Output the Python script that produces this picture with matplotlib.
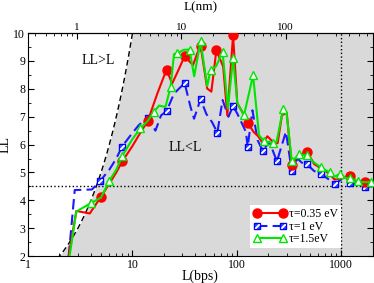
import numpy as np
import matplotlib
matplotlib.use("Agg")
import matplotlib.pyplot as plt
from matplotlib.ticker import FuncFormatter, AutoMinorLocator, NullFormatter, FixedLocator

plt.rcParams['font.family'] = ['Liberation Serif', 'DejaVu Serif']

# tau = 0.35 eV
L_red = [2.45, 2.9, 3.9, 5.0, 6.0, 7.0, 8.0, 10, 12, 14, 17.3, 21.2, 24, 27, 31.6, 38, 42,
         45, 52, 57, 63.6, 74, 81, 92, 101, 113, 127, 145, 160, 177, 196, 222, 246, 270,
         300, 336, 380, 411, 471, 550, 640, 775, 860, 1000, 1222, 1450, 1676, 2000]
LL_red = [2.0, 3.62, 3.53, 4.13, 4.6, 5.0, 5.4, 5.95, 6.45, 6.84, 7.83, 8.69, 8.19, 8.6, 9.17,
          8.85, 9.3, 9.54, 8.01, 7.9, 9.38, 8.8, 7.05, 9.92, 7.47, 7.17, 6.78, 6.45, 6.3,
          6.05, 6.3, 6.1, 6.05, 7.05, 7.15, 5.26, 5.6, 5.65, 5.75, 5.3, 5.15, 4.95, 4.75,
          4.78, 4.87, 4.63, 4.66, 4.6]
mk_red = [3, 6, 9, 11, 14, 17, 20, 23, 26, 35, 38, 44, 46]

# tau = 1 eV
L_blue = [2.45, 2.8, 4.1, 4.92, 6.0, 7.0, 7.95, 9.9, 11.5, 14, 16.6, 18.8, 21.2, 25, 31.6,
          36, 38.9, 44.9, 51, 58, 65, 73, 83, 92, 101, 122, 127, 141, 158, 177, 205, 242,
          295, 336, 380, 420, 471, 550, 640, 760, 880, 1000, 1220, 1450, 1700, 2000]
LL_blue = [2.0, 4.37, 4.39, 4.70, 5.1, 5.5, 5.93, 6.4, 6.7, 6.96, 6.5, 7.05, 7.2, 7.83, 8.21,
           7.35, 6.93, 7.63, 7.1, 6.8, 6.43, 7.6, 7.0, 7.38, 7.11, 6.46, 5.92, 7.23, 6.16,
           5.78, 6.1, 5.4, 6.46, 5.05, 5.5, 5.35, 5.29, 5.05, 4.95, 4.75, 4.6, 4.75, 4.62,
           4.55, 4.49, 4.5]
mk_blue = [3, 6, 9, 12, 14, 17, 20, 23, 26, 29, 31, 33, 36, 38, 40, 42, 44]

# tau = 1.5 eV
L_green = [2.5, 2.9, 4.0, 5.0, 6.0, 7.0, 8.0, 10, 11.9, 14, 16, 18, 20.7, 23.2, 25, 26.9, 31,
           35.2, 39, 44.9, 52, 56, 63, 73, 82, 92, 101, 117, 143, 163, 183, 200, 222, 240,
           278, 300, 336, 397, 470, 525, 640, 775, 860, 980, 1100, 1225, 1450, 1700, 1940]
LL_green = [2.0, 3.6, 3.9, 4.1, 4.7, 5.1, 5.6, 6.2, 6.58, 6.85, 7.17, 7.4, 7.35, 8.07, 9.25,
            9.27, 9.4, 9.41, 8.45, 9.7, 8.1, 8.67, 8.8, 9.32, 7.3, 9.09, 7.5, 7.05, 8.49,
            6.34, 6.12, 6.1, 6.04, 6.1, 7.29, 7.1, 5.4, 5.65, 5.62, 5.41, 5.18, 5.0, 4.85,
            4.96, 4.8, 4.8, 4.68, 4.65, 4.66]
mk_green = [2, 4, 6, 8, 10, 13, 15, 17, 19, 21, 23, 25, 27, 28, 30, 32, 34, 36, 37, 38, 40,
            41, 43, 45, 46, 48]

nm_per_bp = 0.34

fig = plt.figure(figsize=(3.74, 2.83), dpi=100)
ax = fig.add_axes([0.075, 0.095, 0.9215, 0.788])
ax.set_xscale('log')
ax.set_xlim(1, 2000)
ax.set_ylim(2, 10)

# region LL < L
xs = np.geomspace(2, 2000, 400)
ax.fill_between(xs, 2, np.minimum(xs, 10), color='#d9d9d9', lw=0, zorder=0)
xd = np.geomspace(1.9, 10, 100)
ax.plot(xd, xd, color='black', ls=(0, (4, 2.5)), lw=1.0, zorder=1)

ax.axhline(4.5, color='black', ls=':', lw=1.0, zorder=1)
ax.axvline(1000, color='black', ls=':', lw=1.0, zorder=1)

h1, = ax.plot(L_red, LL_red, color='#ff0000', lw=1.5, marker='o', ms=6.5,
              markevery=mk_red, mec='#ff0000', mfc='#ff0000', zorder=3)
h2, = ax.plot(L_blue, LL_blue, color='#1a1aff', lw=1.5, ls=(0, (5, 2.5)), marker='s',
              ms=5, markevery=mk_blue, mec='#0000ff', mfc='#3355ff', zorder=2)
h2b, = ax.plot(np.array(L_blue)[mk_blue], np.array(LL_blue)[mk_blue], ls='none',
               marker=(2, 2, -45), ms=4, mec='white', mew=0.9, zorder=2)
h3, = ax.plot(L_green, LL_green, color='#00e600', lw=1.5, marker='^', ms=6,
              markevery=mk_green, mec='#00e600', mfc='white', mew=1.0, zorder=4)

ax.text(4.7, 9.0, 'LL>L', fontsize=10, ha='center', va='center')
ax.text(32, 5.9, 'LL<L', fontsize=10, ha='center', va='center')

fmt = FuncFormatter(lambda v, p: f'{v:g}')
ax.xaxis.set_major_locator(FixedLocator([1, 10, 100, 1000]))
ax.xaxis.set_major_formatter(fmt)
ax.xaxis.set_minor_formatter(NullFormatter())
ax.yaxis.set_major_locator(FixedLocator(range(2, 11)))
ax.yaxis.set_minor_locator(AutoMinorLocator(2))
ax.tick_params(which='both', direction='in', right=True, top=False, labelsize=8.5, pad=2)
ax.tick_params(which='major', length=4, width=0.8)
ax.tick_params(which='minor', length=2.5, width=0.6)

sec = ax.secondary_xaxis('top', functions=(lambda x: x * nm_per_bp, lambda x: x / nm_per_bp))
sec.xaxis.set_major_locator(FixedLocator([1, 10, 100]))
sec.xaxis.set_major_formatter(fmt)
sec.xaxis.set_minor_formatter(NullFormatter())
sec.tick_params(which='both', direction='in', labelsize=8, pad=1)
sec.tick_params(which='major', length=4, width=0.8)
sec.tick_params(which='minor', length=2.5, width=0.6)
ax.text(0.5, 1.0 + 32 / 223, 'L(nm)', fontsize=9.5, ha='center', va='top',
        transform=ax.transAxes)

ax.set_xlabel('L(bps)', fontsize=10, labelpad=-1)
ax.set_ylabel('LL', fontsize=10, labelpad=1)
for s in ax.spines.values():
    s.set_linewidth(0.8)

leg = ax.legend([h1, (h2, h2b), h3], ['τ=0.35 eV', 'τ=1 eV', 'τ=1.5eV'],
                loc='lower left', bbox_to_anchor=(0.645, 0.035), fontsize=8.5,
                numpoints=2, handlelength=2.8, handletextpad=0.2, labelspacing=0.05,
                borderpad=0.25, borderaxespad=0, frameon=True, fancybox=False)
leg.get_frame().set_edgecolor('none')
leg.get_frame().set_facecolor('white')
leg.get_frame().set_alpha(1)

fig.savefig('out.png', dpi=100)
